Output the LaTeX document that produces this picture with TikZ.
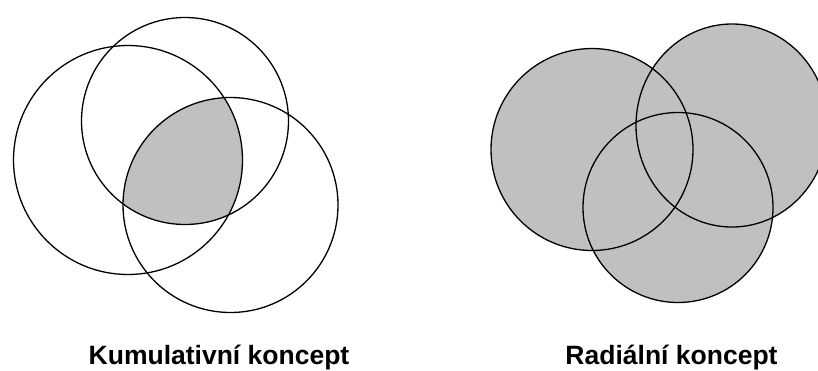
\documentclass[tikz,border=0pt]{standalone}
\usepackage{fontspec}
\setmainfont{Liberation Sans}
\definecolor{venngray}{HTML}{C0C0C0}
\begin{document}
\begin{tikzpicture}[x=1pt,y=-1pt,
  ring/.style={draw=black, line width=1.3pt},
  caption/.style={font=\bfseries\fontsize{26.5}{30}\selectfont, anchor=base, inner sep=0pt}]
\clip (0,0) rectangle (818,370);
\fill[white] (0,0) rectangle (818,370);
% Kumulativni koncept: intersection of all three
\begin{scope}
  \clip (128,160) circle[radius=114.5];
  \clip (185,121) circle[radius=103.5];
  \fill[venngray] (230.5,205) circle[radius=107.5];
\end{scope}
\draw[ring] (128,160) circle[radius=114.5];
\draw[ring] (185,121) circle[radius=103.5];
\draw[ring] (230.5,205) circle[radius=107.5];
% Radialni koncept: union of all three
\fill[venngray] (592,149.5) circle[radius=101];
\fill[venngray] (732,125.5) ellipse[x radius=96, y radius=101.5];
\fill[venngray] (678,207.5) circle[radius=95];
\draw[ring] (592,149.5) circle[radius=101];
\draw[ring] (732,125.5) ellipse[x radius=96, y radius=101.5];
\draw[ring] (678,207.5) circle[radius=95];
% captions
\node[caption] (kum) at (219,364) {Kumulativní koncept};
\node[caption] (rad) at (671.5,364) {Radiální koncept};
\end{tikzpicture}
\end{document}
